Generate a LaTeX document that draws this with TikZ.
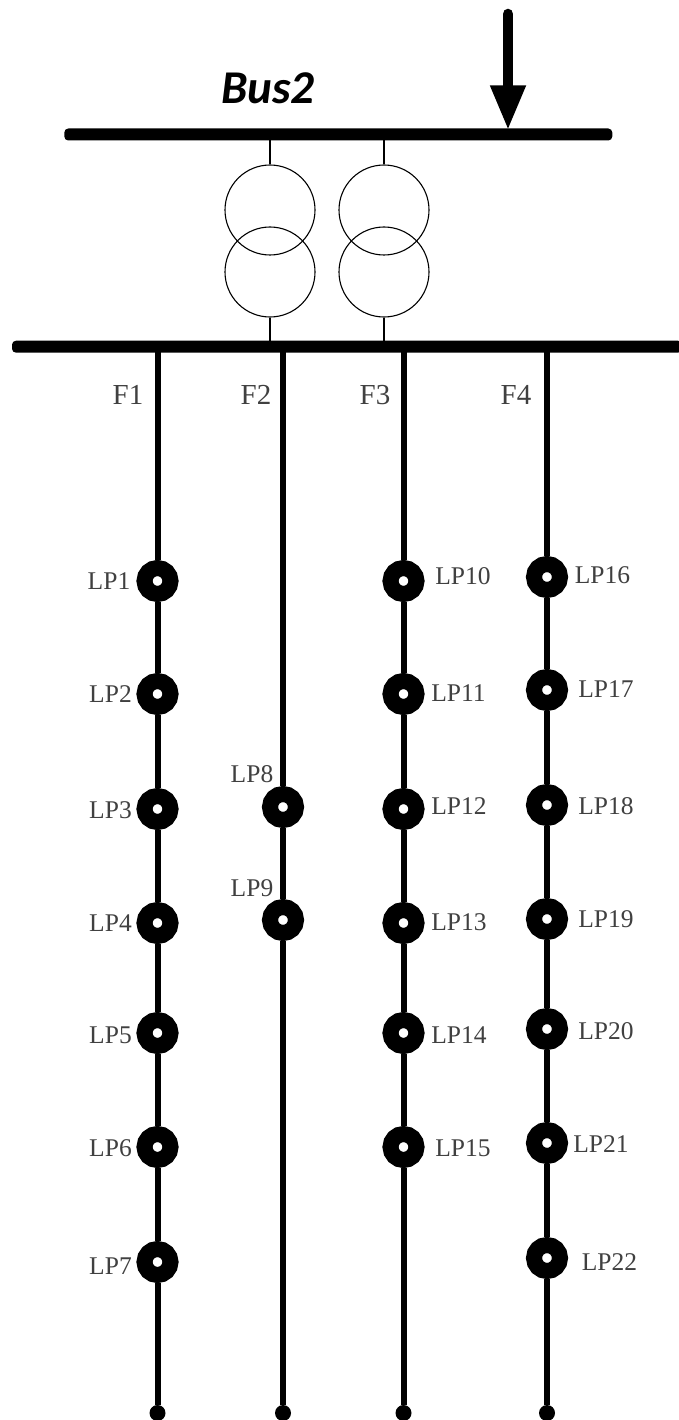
\documentclass[tikz,border=0pt]{standalone}
\usepackage{fontspec}
\setmainfont{Liberation Serif}
\newfontfamily\busfont{Carlito}
\usetikzlibrary{arrows.meta}
\tikzset{
  bus/.style={fill=black,rounded corners=4pt,inner sep=0pt,minimum height=12pt},
  winding/.style={draw,shape=circle,inner sep=0pt,minimum size=90pt,line width=1.1pt},
  tie/.style={line width=1.3pt},
  feeder/.style={line width=6pt},
  lp/.style={draw=black,fill=white,shape=circle,inner sep=0pt,minimum size=26pt,line width=16pt},
  tail/.style={fill=black,shape=circle,inner sep=0pt,minimum size=16pt},
  txt/.style={text=black!75,font=\fontsize{25.5}{27}\selectfont,inner sep=0pt},
  ftxt/.style={text=black!75,font=\fontsize{29}{31}\selectfont,inner sep=0pt},
}
\begin{document}
\begin{tikzpicture}[x=1pt,y=-1pt]
      \useasboundingbox (0,0) rectangle (678,1420) ;
      % bars
      \node[bus,minimum width=548pt] (bus2) at (338.3,134.5) {} ;
      \node[bus,minimum width=670pt] (bus1) at (347,346.7) {} ;
      \node[font=\busfont\bfseries\itshape\fontsize{47}{49}\selectfont,inner sep=0pt] (name) at (268,88) {Bus2} ;
      % incoming arrow
      \coordinate (in) at (508,14) ;
      \draw[line width=10.5pt,line cap=round,shorten >=-2pt,-{Triangle[length=45pt,width=33pt]}] (in) -- (in |- bus2.north) ;
      % transformers
      \node[winding] (t1a) at (270,210) {} ;
      \node[winding] (t1b) at (270,272) {} ;
      \node[winding] (t2a) at (384,210) {} ;
      \node[winding] (t2b) at (384,272) {} ;
      \draw[tie] (t1a.north) -- (t1a.north |- bus2) ;
      \draw[tie] (t2a.north) -- (t2a.north |- bus2) ;
      \draw[tie] (t1b.south) -- (t1b.south |- bus1) ;
      \draw[tie] (t2b.south) -- (t2b.south |- bus1) ;
      % feeder ends
      \node[tail] (e1) at (157.5,1413) {} ;
      \node[tail] (e2) at (283,1413) {} ;
      \node[tail] (e3) at (403.5,1413) {} ;
      \node[tail] (e4) at (547,1413) {} ;
      % F1
      \node[lp] (lp1) at (157.5,581) {} ;
      \node[lp] (lp2) at (157.5,694) {} ;
      \node[lp] (lp3) at (157.5,809) {} ;
      \node[lp] (lp4) at (157.5,923) {} ;
      \node[lp] (lp5) at (157.5,1033) {} ;
      \node[lp] (lp6) at (157.5,1147) {} ;
      \node[lp] (lp7) at (157.5,1262) {} ;
      % F2
      \node[lp] (lp8) at (283,807) {} ;
      \node[lp] (lp9) at (283,920) {} ;
      % F3
      \node[lp] (lp10) at (403.5,581) {} ;
      \node[lp] (lp11) at (403.5,694) {} ;
      \node[lp] (lp12) at (403.5,809) {} ;
      \node[lp] (lp13) at (403.5,923) {} ;
      \node[lp] (lp14) at (403.5,1033) {} ;
      \node[lp] (lp15) at (403.5,1147) {} ;
      % F4
      \node[lp] (lp16) at (547,577) {} ;
      \node[lp] (lp17) at (547,690) {} ;
      \node[lp] (lp18) at (547,805) {} ;
      \node[lp] (lp19) at (547,919) {} ;
      \node[lp] (lp20) at (547,1029) {} ;
      \node[lp] (lp21) at (547,1143) {} ;
      \node[lp] (lp22) at (547,1258) {} ;
      % feeders
      \draw[feeder] (lp1 |- bus1) -- (lp1) -- (lp2) -- (lp3) -- (lp4) -- (lp5) -- (lp6) -- (lp7) -- (e1) ;
      \draw[feeder] (lp8 |- bus1) -- (lp8) -- (lp9) -- (e2) ;
      \draw[feeder] (lp10 |- bus1) -- (lp10) -- (lp11) -- (lp12) -- (lp13) -- (lp14) -- (lp15) -- (e3) ;
      \draw[feeder] (lp16 |- bus1) -- (lp16) -- (lp17) -- (lp18) -- (lp19) -- (lp20) -- (lp21) -- (lp22) -- (e4) ;
      % labels
      \node[ftxt] (f1) at (128,395) {F1} ;
      \node[ftxt] (f2) at (256,395) {F2} ;
      \node[ftxt] (f3) at (375,395) {F3} ;
      \node[ftxt] (f4) at (516,395) {F4} ;
      \node[txt] (l1) at (109,581) {LP1} ;
      \node[txt] (l2) at (110.5,694) {LP2} ;
      \node[txt] (l3) at (110.5,810) {LP3} ;
      \node[txt] (l4) at (110.5,923) {LP4} ;
      \node[txt] (l5) at (110.5,1035) {LP5} ;
      \node[txt] (l6) at (110.5,1148) {LP6} ;
      \node[txt] (l7) at (110.5,1266) {LP7} ;
      \node[txt] (l8) at (252,774) {LP8} ;
      \node[txt] (l9) at (252,888) {LP9} ;
      \node[txt] (l10) at (463,576) {LP10} ;
      \node[txt] (l11) at (458.5,693) {LP11} ;
      \node[txt] (l12) at (459,806) {LP12} ;
      \node[txt] (l13) at (459,922) {LP13} ;
      \node[txt] (l14) at (459,1035) {LP14} ;
      \node[txt] (l15) at (463,1148) {LP15} ;
      \node[txt] (l16) at (602.5,575) {LP16} ;
      \node[txt] (l17) at (606,689) {LP17} ;
      \node[txt] (l18) at (606,806) {LP18} ;
      \node[txt] (l19) at (606,919) {LP19} ;
      \node[txt] (l20) at (606,1031) {LP20} ;
      \node[txt] (l21) at (601,1144) {LP21} ;
      \node[txt] (l22) at (609.5,1262) {LP22} ;
    \end{tikzpicture}
\end{document}
